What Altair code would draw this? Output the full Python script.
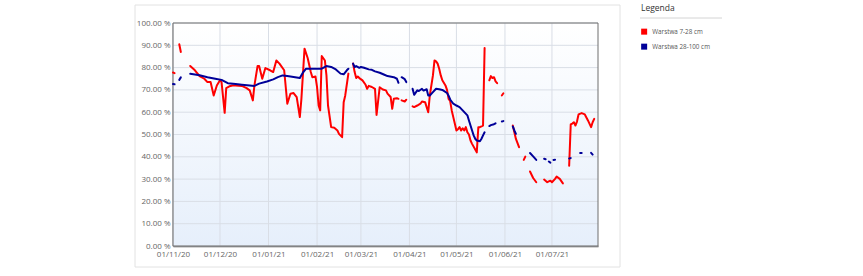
import altair as alt
import pandas as pd

series_names = ["Warstwa 7-28 cm", "Warstwa 28-100 cm"]
series_colors = ["#ff0000", "#000099"]

red_dates = [
    "2020-11-01", "2020-11-02", "2020-11-03", "2020-11-05", "2020-11-06", "2020-11-08",
    "2020-11-12", "2020-11-15", "2020-11-18", "2020-11-21", "2020-11-23", "2020-11-25",
    "2020-11-27", "2020-11-29", "2020-12-01", "2020-12-02", "2020-12-04", "2020-12-05",
    "2020-12-07", "2020-12-09", "2020-12-11", "2020-12-15", "2020-12-18", "2020-12-20",
    "2020-12-22", "2020-12-23", "2020-12-25", "2020-12-26", "2020-12-28", "2020-12-30",
    "2021-01-02", "2021-01-04", "2021-01-06", "2021-01-08", "2021-01-11", "2021-01-13",
    "2021-01-15", "2021-01-17", "2021-01-19", "2021-01-21", "2021-01-22", "2021-01-24",
    "2021-01-26", "2021-01-28", "2021-01-29", "2021-01-31", "2021-02-01", "2021-02-02",
    "2021-02-03", "2021-02-04", "2021-02-06", "2021-02-07", "2021-02-08", "2021-02-10",
    "2021-02-12", "2021-02-14", "2021-02-15", "2021-02-17", "2021-02-18", "2021-02-19",
    "2021-02-21", "2021-02-22",
    "2021-02-24", "2021-02-25", "2021-02-26", "2021-02-27", "2021-02-28", "2021-03-02",
    "2021-03-04", "2021-03-05", "2021-03-06", "2021-03-08", "2021-03-10", "2021-03-11",
    "2021-03-13", "2021-03-15", "2021-03-17", "2021-03-18", "2021-03-20", "2021-03-21",
    "2021-03-22", "2021-03-24", "2021-03-25", "2021-03-26",
    "2021-03-27", "2021-03-29", "2021-03-30", "2021-03-31",
    "2021-04-03", "2021-04-04", "2021-04-06", "2021-04-08", "2021-04-09", "2021-04-11",
    "2021-04-13", "2021-04-14", "2021-04-16", "2021-04-17", "2021-04-18", "2021-04-19",
    "2021-04-20", "2021-04-21", "2021-04-22", "2021-04-24", "2021-04-25", "2021-04-26",
    "2021-04-27", "2021-04-28", "2021-04-29", "2021-04-30", "2021-05-01", "2021-05-02",
    "2021-05-03", "2021-05-04", "2021-05-05", "2021-05-06", "2021-05-07", "2021-05-08",
    "2021-05-09", "2021-05-10", "2021-05-11", "2021-05-14", "2021-05-15", "2021-05-16",
    "2021-05-18", "2021-05-19", "2021-05-20",
    "2021-05-22", "2021-05-23", "2021-05-24", "2021-05-25", "2021-05-26", "2021-05-27",
    "2021-05-28",
    "2021-05-30", "2021-05-31", "2021-06-01",
    "2021-06-06", "2021-06-07", "2021-06-08", "2021-06-10", "2021-06-11",
    "2021-06-13", "2021-06-14", "2021-06-15",
    "2021-06-17", "2021-06-19", "2021-06-21", "2021-06-22",
    "2021-06-26", "2021-06-28", "2021-06-30", "2021-07-01", "2021-07-03", "2021-07-04",
    "2021-07-06", "2021-07-08", "2021-07-09",
    "2021-07-12", "2021-07-13", "2021-07-14", "2021-07-15", "2021-07-16", "2021-07-17",
    "2021-07-18", "2021-07-20", "2021-07-22", "2021-07-24", "2021-07-26", "2021-07-27",
    "2021-07-28",
]
red_values = [
    77.8, 77.5, None, 90.5, 87.0, None,
    80.7, 78.8, 76.2, 75.0, 73.5, 73.5,
    67.5, 72.0, 74.3, 73.5, 59.7, 70.8,
    71.6, 72.0, 72.0, 71.8, 70.8, 69.8,
    65.3, 72.0, 80.7, 80.7, 75.0, 79.8,
    78.8, 78.0, 83.2, 81.8, 78.8, 63.8,
    68.3, 68.6, 66.8, 57.8, 66.0, 88.5,
    84.3, 78.0, 75.7, 76.0, 71.2, 63.0,
    60.8, 85.2, 83.2, 76.5, 63.0, 53.3,
    53.0, 51.8, 50.3, 48.8, 64.5, 67.5,
    77.3, None,
    81.8, 78.0, 75.3, 76.0, 75.3, 74.3,
    72.3, 70.5, 71.8, 71.3, 70.5, 58.8,
    71.2, 70.2, 69.8, 68.3, 66.8, 61.5,
    66.0, 66.3, 66.0, None,
    65.3, 64.8, 65.6, None,
    62.6, 62.3, 63.0, 63.8, 64.8, 64.5,
    60.0, 67.5, 76.5, 83.2, 82.8, 81.8,
    79.5, 76.5, 74.3, 72.0, 70.0, 66.0,
    65.0, 60.8, 57.8, 54.8, 51.8, 52.4,
    53.3, 51.8, 52.8, 51.8, 53.3, 51.0,
    50.0, 47.3, 45.8, 42.0, 53.3, 53.3,
    54.0, 88.8, None,
    74.3, 76.2, 75.3, 75.7, 73.8, 73.0,
    None,
    67.5, 68.5, None,
    54.0, 51.0, 48.0, 44.3, None,
    38.6, 40.1, None,
    33.4, 30.5, 28.6, None,
    29.8, 28.6, 29.3, 28.6, 30.1, 31.1,
    30.1, 28.1, None,
    36.0, 54.5, 54.9, 55.5, 54.0, 55.8,
    59.0, 59.6, 59.0, 56.3, 53.3, 55.5,
    57.0,
]

blue_dates = [
    "2020-11-01", "2020-11-02", "2020-11-03", "2020-11-05", "2020-11-06", "2020-11-08",
    "2020-11-12", "2020-11-18", "2020-11-23", "2020-11-28", "2020-12-02", "2020-12-06",
    "2020-12-11", "2020-12-15", "2020-12-20", "2020-12-23", "2020-12-26", "2020-12-31",
    "2021-01-04", "2021-01-07", "2021-01-10", "2021-01-13", "2021-01-18", "2021-01-21",
    "2021-01-23", "2021-01-25", "2021-01-29", "2021-02-04", "2021-02-07", "2021-02-10",
    "2021-02-13", "2021-02-16", "2021-02-18", "2021-02-20", "2021-02-21", "2021-02-22",
    "2021-02-24", "2021-02-25", "2021-02-26", "2021-02-28", "2021-03-01", "2021-03-03",
    "2021-03-06", "2021-03-08", "2021-03-10", "2021-03-13", "2021-03-16", "2021-03-18",
    "2021-03-22", "2021-03-24", "2021-03-25", "2021-03-26",
    "2021-03-27", "2021-03-29", "2021-03-30", "2021-03-31",
    "2021-04-03", "2021-04-04", "2021-04-06", "2021-04-07", "2021-04-09", "2021-04-10",
    "2021-04-12", "2021-04-13", "2021-04-14", "2021-04-16", "2021-04-18", "2021-04-20",
    "2021-04-22", "2021-04-25", "2021-04-26", "2021-04-27", "2021-04-29", "2021-05-01",
    "2021-05-03", "2021-05-05", "2021-05-08", "2021-05-09", "2021-05-10", "2021-05-11",
    "2021-05-12", "2021-05-13", "2021-05-14", "2021-05-16", "2021-05-17", "2021-05-18",
    "2021-05-19", "2021-05-20",
    "2021-05-22", "2021-05-23", "2021-05-25", "2021-05-26", "2021-05-27",
    "2021-05-30", "2021-05-31", "2021-06-01",
    "2021-06-06", "2021-06-07", "2021-06-08", "2021-06-09",
    "2021-06-17", "2021-06-19", "2021-06-21", "2021-06-22",
    "2021-06-26", "2021-06-27", "2021-06-28",
    "2021-06-29", "2021-06-30", "2021-07-01",
    "2021-07-02", "2021-07-03", "2021-07-04",
    "2021-07-12", "2021-07-13", "2021-07-14",
    "2021-07-19", "2021-07-20", "2021-07-21",
    "2021-07-26", "2021-07-27",
]
blue_values = [
    72.6, 72.5, None, 74.5, 75.6, None,
    77.2, 76.6, 75.7, 75.0, 74.5, 73.0,
    72.6, 72.3, 72.0, 71.8, 72.8, 73.8,
    74.7, 75.7, 76.5, 76.2, 75.7, 75.3,
    77.8, 79.5, 79.5, 79.5, 80.7, 80.3,
    79.2, 77.3, 77.0, 78.8, 79.5, None,
    81.8, 80.2, 80.7, 79.9, 80.3, 79.9,
    79.2, 79.0, 78.3, 77.7, 76.8, 76.2,
    75.7, 75.0, 73.2, None,
    75.7, 74.8, 73.5, None,
    70.5, 67.8, 69.8, 69.5, 70.5, 69.7,
    70.3, 67.5, 67.5, 69.0, 70.5, 70.3,
    70.0, 68.6, 67.4, 65.7, 63.8, 63.0,
    62.3, 60.8, 58.6, 56.3, 54.0, 51.8,
    49.6, 48.1, 47.3, 47.0, 48.1, 49.6,
    51.0, None,
    53.8, 54.2, 54.6, 55.0, None,
    55.8, 56.0, None,
    53.6, 51.8, 50.3, None,
    41.7, 40.2, 38.6, None,
    39.1, 38.9, None,
    37.9, 37.4, None,
    38.6, 38.7, None,
    39.2, 39.4, None,
    41.7, 41.7, None,
    41.8, 41.0,
]

y_ticks = [0, 10, 20, 30, 40, 50, 60, 70, 80, 90, 100]
x_ticks = ["2020-11-01", "2020-12-01", "2021-01-01", "2021-02-01", "2021-03-01",
           "2021-04-01", "2021-05-01", "2021-06-01", "2021-07-01"]


def build(name, dates, values):
    rows, seg = [], 0
    for d, v in zip(dates, values):
        if v is None:
            seg += 1
            continue
        rows.append({"date": d, "value": v, "series": name, "seg": f"{name}-{seg}"})
    return rows


df = pd.DataFrame(build(series_names[0], red_dates, red_values)
                  + build(series_names[1], blue_dates, blue_values))

FONT = "Open Sans"
W, H = 425, 223

x_domain = [alt.DateTime(year=2020, month=11, date=1, utc=True),
            alt.DateTime(year=2021, month=7, date=30, hours=10, utc=True)]
x_values = [alt.DateTime(year=int(s[:4]), month=int(s[5:7]), date=1, utc=True) for s in x_ticks]
x_scale = alt.Scale(type="utc", domain=x_domain)
y_scale = alt.Scale(domain=[0, 100], nice=False)

x_axis = alt.Axis(values=x_values, title=None, grid=False, ticks=False,
                  labelExpr="utcFormat(datum.value, '%d/%m/%y')",
                  labelPadding=4, labelFlush=False, labelOverlap=False)
y_axis = alt.Axis(values=y_ticks, title=None, grid=False, ticks=False,
                  labelExpr="format(datum.value, '.2f') + ' %'",
                  labelPadding=3)

one = pd.DataFrame({"k": [0]})

background = alt.Chart(one).mark_rect(
    fill=alt.LinearGradient(gradient="linear", x1=0, y1=0, x2=0, y2=1,
                            stops=[alt.GradientStop(color="#ffffff", offset=0),
                                   alt.GradientStop(color="#e6effb", offset=1)])
).encode(x=alt.value(0), x2=alt.value(W), y=alt.value(0), y2=alt.value(H))

hgrid = alt.Chart(pd.DataFrame({"v": y_ticks})).mark_rule(color="#d9dee6", strokeWidth=1).encode(
    y=alt.Y("v:Q", scale=y_scale, axis=y_axis))
vgrid = alt.Chart(pd.DataFrame({"d": x_ticks})).mark_rule(color="#d9dee6", strokeWidth=1).encode(
    x=alt.X("d:T", scale=x_scale, axis=x_axis))

lines = alt.Chart(df).mark_line(strokeWidth=2, strokeJoin="round", strokeCap="round").encode(
    x=alt.X("date:T", scale=x_scale, axis=x_axis),
    y=alt.Y("value:Q", scale=y_scale, axis=y_axis),
    color=alt.Color("series:N",
                    scale=alt.Scale(domain=series_names, range=series_colors),
                    legend=alt.Legend(title="Legenda", orient="none",
                                      legendX=468, legendY=-19,
                                      symbolType="square", symbolSize=4,
                                      symbolStrokeWidth=4, symbolOpacity=1,
                                      labelFontSize=6.3, labelColor="#555", labelFont=FONT,
                                      titleFontSize=8.5, titleFontWeight="normal",
                                      titleColor="#333", titleFont=FONT,
                                      titlePadding=16, rowPadding=-4, labelOffset=5)),
    detail="seg:N",
)

border = alt.Chart(one).mark_rect(fill="transparent", stroke="#6e6e6e", strokeWidth=1).encode(
    x=alt.value(0), x2=alt.value(W), y=alt.value(0), y2=alt.value(H))
container = alt.Chart(one).mark_rect(fill="transparent", stroke="#e2e2e2", strokeWidth=1).encode(
    x=alt.value(-38), x2=alt.value(447), y=alt.value(-18), y2=alt.value(244))
underline = alt.Chart(one).mark_rule(color="#d4d4d4", strokeWidth=1).encode(
    x=alt.value(467), x2=alt.value(549), y=alt.value(-5))

chart = alt.layer(background, hgrid, vgrid, container, underline, border, lines).properties(
    width=W, height=H,
    autosize=alt.AutoSizeParams(type="none"),
    padding={"left": 173, "top": 23, "right": 265, "bottom": 30},
    background="white",
).configure_view(
    stroke=None,
).configure_axis(
    domainColor="#555555", domainWidth=1.5, zindex=1,
    labelColor="#666666", labelFont=FONT, labelFontSize=8,
)

chart.save("out.html", embed_options={"renderer": "svg", "actions": False})
